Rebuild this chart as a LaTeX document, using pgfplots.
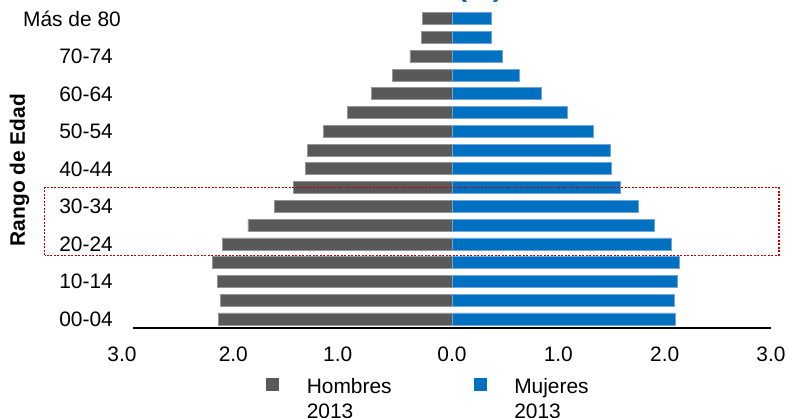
\documentclass[border=0pt]{standalone}
\usepackage{fontspec}
\setmainfont{Liberation Sans}
\usepackage{pgfplots}
\usepackage{pgfplotstable}
\pgfplotsset{compat=1.18}

\definecolor{hombres}{RGB}{89,89,89}
\definecolor{hombresedge}{RGB}{150,150,150}
\definecolor{mujeres}{RGB}{0,112,192}
\definecolor{mujeresedge}{RGB}{110,165,220}
\definecolor{titulo}{RGB}{46,95,165}
\definecolor{marco}{RGB}{192,0,0}

% Share of population (%) by age group, 2013
\pgfplotstableread{
idx hombres mujeres
0  2.20  2.10
1  2.18  2.09
2  2.21  2.12
3  2.25  2.14
4  2.16  2.06
5  1.92  1.90
6  1.67  1.75
7  1.49  1.58
8  1.38  1.50
9  1.36  1.49
10 1.21  1.33
11 0.98  1.08
12 0.76  0.84
13 0.56  0.63
14 0.395 0.47
15 0.29  0.37
16 0.275 0.37
}\piramide

\begin{document}
\begin{tikzpicture}[font=\fontsize{21}{25}\selectfont]
\useasboundingbox (0,0) rectangle (788bp,418bp);
\node[anchor=base, text=titulo, font=\fontsize{29}{34}\selectfont\bfseries, inner sep=0pt] at (480bp,421.8bp) {(\%)};
\begin{axis}[
  at={(133bp,89.8bp)}, anchor=south west,
  scale only axis, width=638bp, height=318.8bp,
  xmin=-3, xmax=3, ymin=-0.5, ymax=16.5,
  axis x line*=bottom, axis y line*=left,
  x axis line style={line width=1.6bp, black},
  y axis line style={draw=none},
  major tick length=0pt,
  /pgf/number format/assume math mode=true,
  xtick={-3,-2,-1,0,1,2,3},
  xticklabels={3.0\hspace*{22bp}, 2.0\hspace*{12bp}, 1.0\hspace*{16bp}, 0.0, 1.0, 2.0, 3.0},
  ytick={0,2,...,16},
  yticklabels={00-04,10-14,20-24,30-34,40-44,50-54,60-64,70-74,Más de 80\hspace*{-8bp}},
  xticklabel style={anchor=base, inner sep=0pt, yshift=-32.8bp},
  yticklabel style={anchor=base east, inner sep=0pt, xshift=-20bp, yshift=-7.5bp},
  ylabel={Rango de Edad},
  every axis y label/.style={at={(axis description cs:-0.1693,0.4962)}, rotate=90, anchor=base, inner sep=0pt, font=\fontsize{21}{25}\selectfont\bfseries},
  xbar, bar width=12bp, bar shift=0pt,
  legend columns=2,
  legend style={draw=none, fill=none, inner sep=0pt,
    at={(axis description cs:0.2085,-0.1484)}, anchor=north west,
    cells={anchor=base west}, nodes={inner sep=0pt},
    /tikz/every odd column/.style={column sep=28bp},
    /tikz/every even column/.style={column sep=82bp}},
  clip=false,
]
\addplot[fill=hombres, draw=hombresedge, line width=0.6bp,
  legend image code/.code={\fill[hombres] (0bp,3bp) rectangle (12bp,15bp);}]
  table[y=idx, x expr=-\thisrow{hombres}] {\piramide};
\addlegendentry{\begin{tabular}[t]{@{}l@{}}Hombres\\2013\end{tabular}}
\addplot[fill=mujeres, draw=mujeresedge, line width=0.6bp,
  legend image code/.code={\fill[mujeres] (0bp,3bp) rectangle (12bp,15bp);}]
  table[y=idx, x=mujeres] {\piramide};
\addlegendentry{\begin{tabular}[t]{@{}l@{}}Mujeres\\2013\end{tabular}}
% highlighted working-age band
\draw[marco, line width=1.1bp, dash pattern=on 2bp off 1.5bp]
  (axis cs:-3.83,3.4) rectangle (axis cs:3.075,7.0);
\end{axis}
\end{tikzpicture}
\end{document}
